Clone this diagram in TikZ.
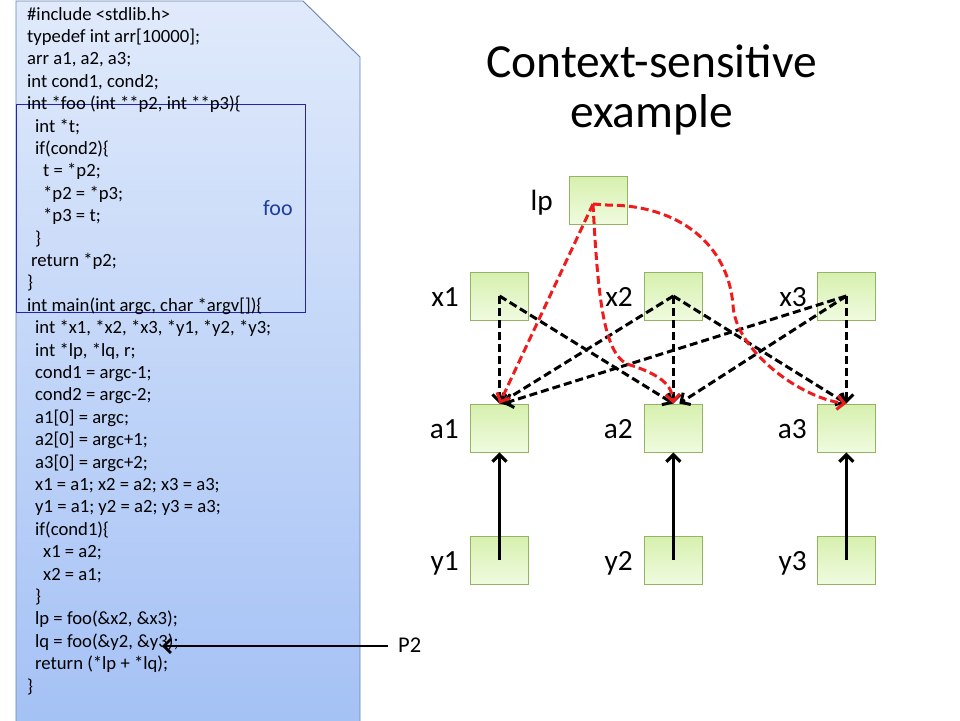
\documentclass[tikz,border=0pt]{standalone}
\usepackage{fontspec}
\setmainfont{Carlito}
\usetikzlibrary{arrows.meta}
\definecolor{codetop}{HTML}{E0EAFB}
\definecolor{codebot}{HTML}{A4C1F5}
\definecolor{codeedge}{HTML}{6A84B0}
\definecolor{gtop}{HTML}{D6F0AE}
\definecolor{gbot}{HTML}{F0FBDF}
\definecolor{gedge}{HTML}{94B464}
\definecolor{fooblue}{HTML}{1F3CA0}
\definecolor{foorect}{HTML}{2424B4}
\definecolor{arrred}{HTML}{EE1C1C}
\tikzset{
  gbox/.style={draw=gedge, line width=0.9pt, top color=gtop, bottom color=gbot,
    minimum width=58pt, minimum height=48pt, inner sep=0pt},
  lab/.style={anchor=base east, inner sep=0pt, font=\fontsize{29.3}{30}\selectfont},
  codeline/.style={anchor=base west, inner sep=0pt, font=\fontsize{18.67}{22.4}\selectfont},
  tipb/.style={-{Straight Barb[length=7pt,width=14pt]}},
  bdash/.style={tipb, black, line width=3pt, dash pattern=on 8pt off 4pt},
  rdash/.style={tipb, arrred, line width=3pt, dash pattern=on 8pt off 4pt},
  solidarr/.style={tipb, black, line width=3.2pt}
}
\begin{document}
\begin{tikzpicture}[x=1pt,y=-1pt]
\useasboundingbox (0,0) rectangle (960,720);
\fill[white] (0,0) rectangle (960,720);
% code panel
\shade[top color=codetop, bottom color=codebot, draw=codeedge, line width=0.9pt]
  (16,1) -- (303,1) -- (360,57) -- (360,730) -- (16,730) -- cycle;
\draw[foorect, line width=1pt] (16,104) rectangle (305,312);
\node[anchor=base west, inner sep=0pt, text=fooblue, font=\fontsize{22}{24}\selectfont] (foolab) at (263,215.5) {foo};
% code lines
\foreach \i/\xx/\txt in {
 0/27/{\#include <stdlib.h>},
 1/27/{typedef int arr[10000];},
 2/27/{arr a1, a2, a3;},
 3/27/{int cond1, cond2;},
 4/27/{int *foo (int **p2, int **p3)\{},
 5/35/{int *t;},
 6/35/{if(cond2)\{},
 7/43/{t = *p2;},
 8/43/{*p2 = *p3;},
 9/43/{*p3 = t;},
 10/35/{\}},
 11/31/{return *p2;},
 12/27/{\}},
 13/27/{int main(int argc, char *argv[])\{},
 14/35/{int *x1, *x2, *x3, *y1, *y2, *y3;},
 15/35/{int *lp, *lq, r;},
 16/35/{cond1 = argc-1;},
 17/35/{cond2 = argc-2;},
 18/35/{a1[0] = argc;},
 19/35/{a2[0] = argc+1;},
 20/35/{a3[0] = argc+2;},
 21/35/{x1 = a1; x2 = a2; x3 = a3;},
 22/35/{y1 = a1; y2 = a2; y3 = a3;},
 23/35/{if(cond1)\{},
 24/43/{x1 = a2;},
 25/43/{x2 = a1;},
 26/35/{\}},
 27/35/{lp = foo(\&x2, \&x3);},
 28/35/{lq = foo(\&y2, \&y3);},
 29/35/{return (*lp + *lq);},
 30/27/{\}}}
 { \node[codeline] (code\i) at (\xx, 20+22.4*\i) {\txt}; }
% title
\node[anchor=base, inner sep=0pt, font=\fontsize{47.5}{48}\selectfont] (title1) at (651.5,77.5) {Context-sensitive};
\node[anchor=base, inner sep=0pt, font=\fontsize{47.5}{48}\selectfont] (title2) at (651.5,127) {example};
% boxes
\node[gbox] (lp) at (598,200) {};
\node[gbox] (x1) at (499.5,296) {};
\node[gbox] (x2) at (673.3,296) {};
\node[gbox] (x3) at (846.3,296) {};
\node[gbox] (a1) at (499.5,428) {};
\node[gbox] (a2) at (673.3,428) {};
\node[gbox] (a3) at (846.3,428) {};
\node[gbox] (y1) at (499.5,560) {};
\node[gbox] (y2) at (673.3,560) {};
\node[gbox] (y3) at (846.3,560) {};
% labels
\node[lab] (llp) at (553,210.5) {lp};
\node[lab] (lx1) at (459,306.5) {x1};
\node[lab] (lx2) at (633,306.5) {x2};
\node[lab] (lx3) at (807,306.5) {x3};
\node[lab] (la1) at (459,438.5) {a1};
\node[lab] (la2) at (633,438.5) {a2};
\node[lab] (la3) at (807,438.5) {a3};
\node[lab] (ly1) at (459,570.5) {y1};
\node[lab] (ly2) at (633,570.5) {y2};
\node[lab] (ly3) at (807,570.5) {y3};
% black dashed points-to edges
\draw[bdash] (x1.center) -- (a1.north);
\draw[bdash] (x1.center) -- (a2.north);
\draw[bdash] (x2.center) -- (a1.north);
\draw[bdash] (x2.center) -- (a2.north);
\draw[bdash] (x2.center) -- (a3.north);
\draw[bdash] (x3.center) -- ([xshift=4pt]a1.north);
\draw[bdash] (x3.center) -- ([xshift=6pt]a2.north);
\draw[bdash] (x3.center) -- (a3.north);
% red dashed edges from lp
\coordinate (lpo) at (593,204);
\draw[rdash] (lpo) -- (a1.north);
\draw[rdash] (lpo) .. controls (598,300) and (604,352) .. (627,364)
  .. controls (660,374) and (672,385) .. (a2.north);
\draw[rdash] (lpo) -- (607,205) .. controls (680,205) and (728,245) .. (733,305)
  .. controls (735,350) and (800,398) .. (a3.north);
% solid edges y -> a
\draw[solidarr] (y1.center) -- (a1.south);
\draw[solidarr] (y2.center) -- (a2.south);
\draw[solidarr] (y3.center) -- (a3.south);
% P2 pointer
\node[anchor=base west, inner sep=0pt, font=\fontsize{22.5}{24}\selectfont] (p2) at (398,652.3) {P2};
\coordinate (p2s) at (388,646);
\coordinate (p2e) at (162,646);
\draw[tipb, black, line width=2.8pt] (p2s) -- (p2e);
\end{tikzpicture}
\end{document}
